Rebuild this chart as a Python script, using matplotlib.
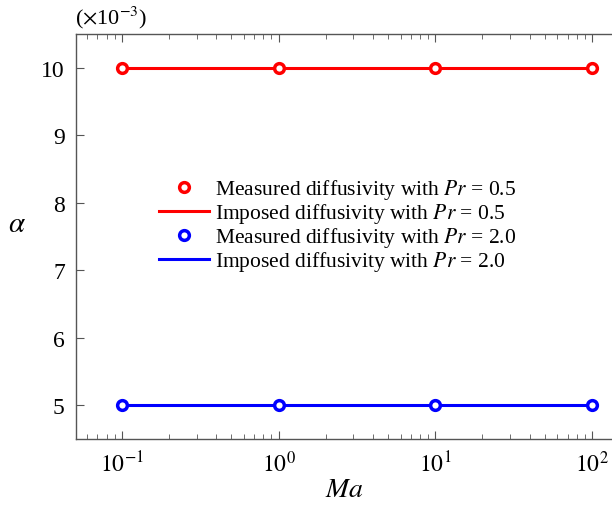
import numpy as np
import matplotlib
matplotlib.use("Agg")
import matplotlib.pyplot as plt

plt.rcParams['font.family'] = ['Liberation Serif', 'DejaVu Serif']
plt.rcParams['mathtext.fontset'] = 'stix'

# data (alpha in units of 1e-3)
ma = [0.1, 1.0, 10.0, 100.0]
measured_pr05 = [10.0, 10.0, 10.0, 10.0]
imposed_pr05 = [10.0, 10.0, 10.0, 10.0]
measured_pr20 = [5.0, 5.0, 5.0, 5.0]
imposed_pr20 = [5.0, 5.0, 5.0, 5.0]
yticks = [5, 6, 7, 8, 9, 10]

fig = plt.figure(figsize=(6.12, 5.06), dpi=100)
ax = fig.add_axes([0.124, 0.130, 0.876, 0.801])

red = '#ff0000'
blue = '#0000ff'

ax.plot(ma, imposed_pr05, '-', color=red, lw=2.2, zorder=2,
        label=r'Imposed diffusivity with $\mathit{Pr}$ = 0.5')
ax.plot(ma, measured_pr05, 'o', mfc='white', mec=red, mew=2.5, ms=7, zorder=3,
        label=r'Measured diffusivity with $\mathit{Pr}$ = 0.5')
ax.plot(ma, imposed_pr20, '-', color=blue, lw=2.2, zorder=2,
        label=r'Imposed diffusivity with $\mathit{Pr}$ = 2.0')
ax.plot(ma, measured_pr20, 'o', mfc='white', mec=blue, mew=2.5, ms=7, zorder=3,
        label=r'Measured diffusivity with $\mathit{Pr}$ = 2.0')

ax.set_xscale('log')
ax.set_xlim(0.051, 134)
ax.set_ylim(4.5, 10.5)
ax.set_yticks(yticks)
ax.set_xticks(ma)
ax.set_xticklabels([r'$10^{-1}$', r'$10^{0}$', r'$10^{1}$', r'$10^{2}$'])

for s in ['left', 'bottom', 'top']:
    ax.spines[s].set_color('#555555')
    ax.spines[s].set_linewidth(1.0)
ax.spines['right'].set_visible(False)

ax.tick_params(axis='x', which='both', direction='in', top=True, bottom=True,
               color='#555555', labelsize=17, pad=8)
ax.tick_params(axis='x', which='major', length=6)
ax.tick_params(axis='x', which='minor', length=3.5)
ax.tick_params(axis='y', which='both', direction='in', left=True, right=False,
               color='#555555', labelsize=17, length=6, pad=8)
ax.yaxis.set_minor_locator(matplotlib.ticker.NullLocator())

ax.set_xlabel(r'$\mathit{Ma}$', fontsize=20, labelpad=1)
ax.set_ylabel(r'$\alpha$', fontsize=21, rotation=0)
ax.yaxis.set_label_coords(-0.11, 0.5)

fig.text(0.122, 0.965, r'($\times$10$^{-3}$)', fontsize=16, ha='left', va='center')

handles, labels = ax.get_legend_handles_labels()
order = [1, 0, 3, 2]
ax.legend([handles[i] for i in order], [labels[i] for i in order],
          loc='center', bbox_to_anchor=(0.489, 0.528), frameon=False,
          fontsize=15.5, handlelength=2.3, handletextpad=0.3, labelspacing=0.0)

fig.savefig('out.png', dpi=100)
